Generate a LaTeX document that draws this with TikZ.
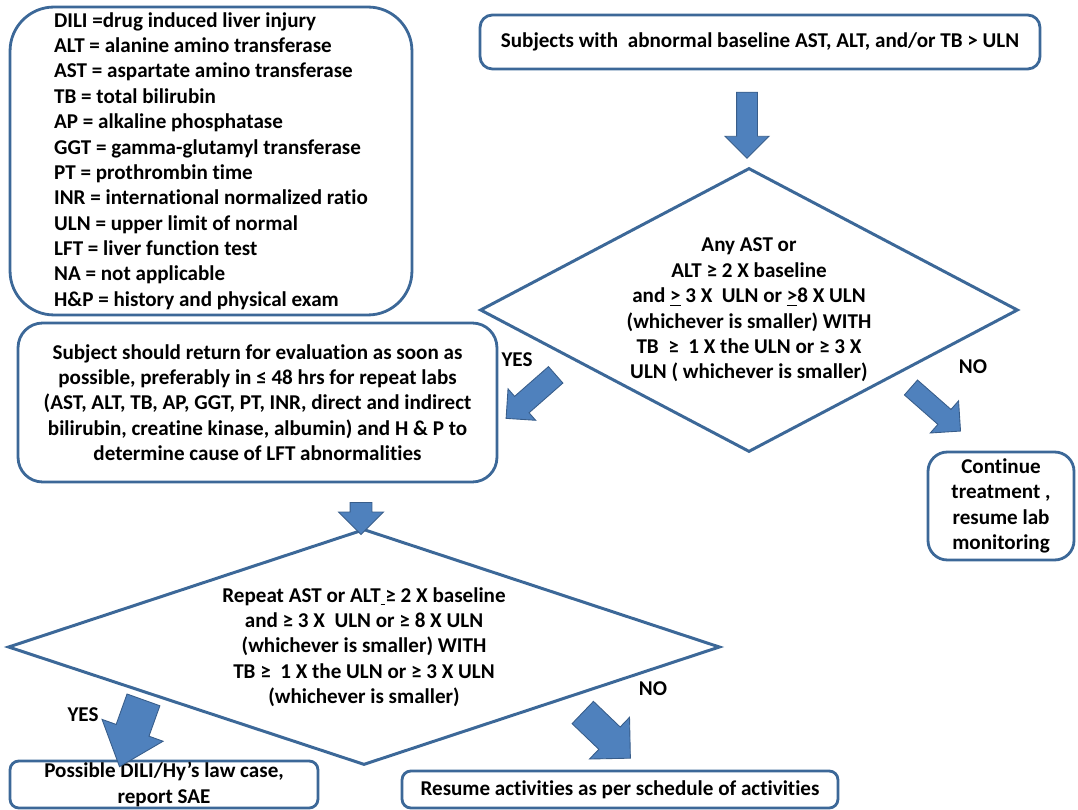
\documentclass[tikz,border=0pt]{standalone}
\usepackage{fontspec}
\setmainfont{Carlito}[Ligatures={NoCommon}]
\usetikzlibrary{shapes.geometric,shapes.arrows}
\definecolor{boxline}{HTML}{3C6898}
\definecolor{arrowfill}{HTML}{4F81BD}
\definecolor{arrowline}{HTML}{385D8A}

\begin{document}
\begin{tikzpicture}[x=0.02cm,y=-0.02cm,
	font=\bfseries\fontsize{12}{14.45}\selectfont,
	box/.style={draw=boxline,line width=1.6pt,fill=white,align=center,inner sep=0pt},
	decision/.style={draw=boxline,line width=1.7pt,diamond,inner sep=0pt,align=center},
	blockarrow/.style={single arrow,draw=arrowline,fill=arrowfill,line width=0.5pt,inner xsep=0pt,
		single arrow head indent=0pt,single arrow tip angle=90},
	answer/.style={inner sep=0pt}]
	\useasboundingbox (0,0) rectangle (1078,810);

	\node[box,rounded corners=25pt,minimum width=8.04cm,minimum height=6.16cm,align=left] (abbrev) at (211,161)
		{DILI =drug induced liver injury\\
		ALT = alanine amino transferase\\
		AST = aspartate amino transferase\\
		TB = total bilirubin\\
		AP = alkaline phosphatase\\
		GGT = gamma-glutamyl transferase\\
		PT = prothrombin time\\
		INR = international normalized ratio\\
		ULN = upper limit of normal\\
		LFT = liver function test\\
		NA = not applicable\\
		H\&P = history and physical exam};

	\node[box,rounded corners=7pt,minimum width=11.2cm,minimum height=1.08cm] (start) at (760,42)
		{Subjects with\ \ abnormal baseline AST, ALT, and/or TB > ULN};

	\node[decision,aspect=1.894,minimum width=10.76cm,minimum height=5.68cm] (check) at (749,310)
		{Any AST or\\
		ALT ≥ 2 X baseline\\
		and \underline{>} 3 X\ \ ULN or \underline{>}8 X ULN\\
		(whichever is smaller) WITH\\
		TB\ \ ≥\ \ 1 X the ULN or ≥ 3 X\\
		ULN ( whichever is smaller)};

	\node[box,rounded corners=14pt,minimum width=9.58cm,minimum height=3.18cm] (recall) at (257.5,402.5)
		{Subject should return for evaluation as soon as\\
		possible, preferably in ≤ 48 hrs for repeat labs\\
		(AST, ALT, TB, AP, GGT, PT, INR, direct and indirect\\
		bilirubin, creatine kinase, albumin) and H \& P to\\
		determine cause of LFT abnormalities};

	\node[box,rounded corners=11pt,minimum width=2.92cm,minimum height=2.16cm] (cont) at (1001,506)
		{Continue\\ treatment ,\\ resume lab\\ monitoring};

	\node[decision,aspect=3.017,minimum width=14.24cm,minimum height=4.72cm] (recheck) at (364,647)
		{Repeat AST or ALT\underline{\ }≥ 2 X baseline\\
		and ≥ 3 X\ \ ULN or ≥ 8 X ULN\\
		(whichever is smaller) WITH\\
		TB ≥\ \ 1 X the ULN or ≥ 3 X ULN\\
		(whichever is smaller)};

	\node[box,rounded corners=5pt,minimum width=6.16cm,minimum height=0.94cm] (dili) at (164,784.5)
		{Possible DILI/Hy’s law case,\\ report SAE};

	\node[box,rounded corners=5pt,minimum width=8.72cm,minimum height=0.74cm] (resume) at (620,789.5)
		{Resume activities as per schedule of activities};

	\node[blockarrow,rotate=-90,minimum height=1.32cm,inner ysep=0.2cm,single arrow head extend=0.23cm] (down1) at (747,120) {};
	\node[blockarrow,rotate=-90,minimum height=0.64cm,inner ysep=0.21cm,single arrow head extend=0.23cm] (down2) at (361,513) {};
	\node[blockarrow,rotate=-138.7,minimum height=1.32cm,inner ysep=0.21cm,single arrow head extend=0.2cm] (yes1arr) at (535,393) {};
	\node[blockarrow,rotate=-41.3,minimum height=1.32cm,inner ysep=0.19cm,single arrow head extend=0.23cm] (no1arr) at (932,406) {};
	\node[blockarrow,rotate=-109.7,minimum height=1.42cm,inner ysep=0.34cm,single arrow head extend=0.3cm,single arrow tip angle=80] (yes2arr) at (135,723.5) {};
	\node[blockarrow,rotate=-43.8,minimum height=1.32cm,inner ysep=0.3cm,single arrow head extend=0.27cm] (no2arr) at (601,730) {};

	\node[answer] (yes1) at (517,360) {YES};
	\node[answer] (no1) at (973,367) {NO};
	\node[answer] (yes2) at (83,715) {YES};
	\node[answer] (no2) at (653,689) {NO};
\end{tikzpicture}
\end{document}
